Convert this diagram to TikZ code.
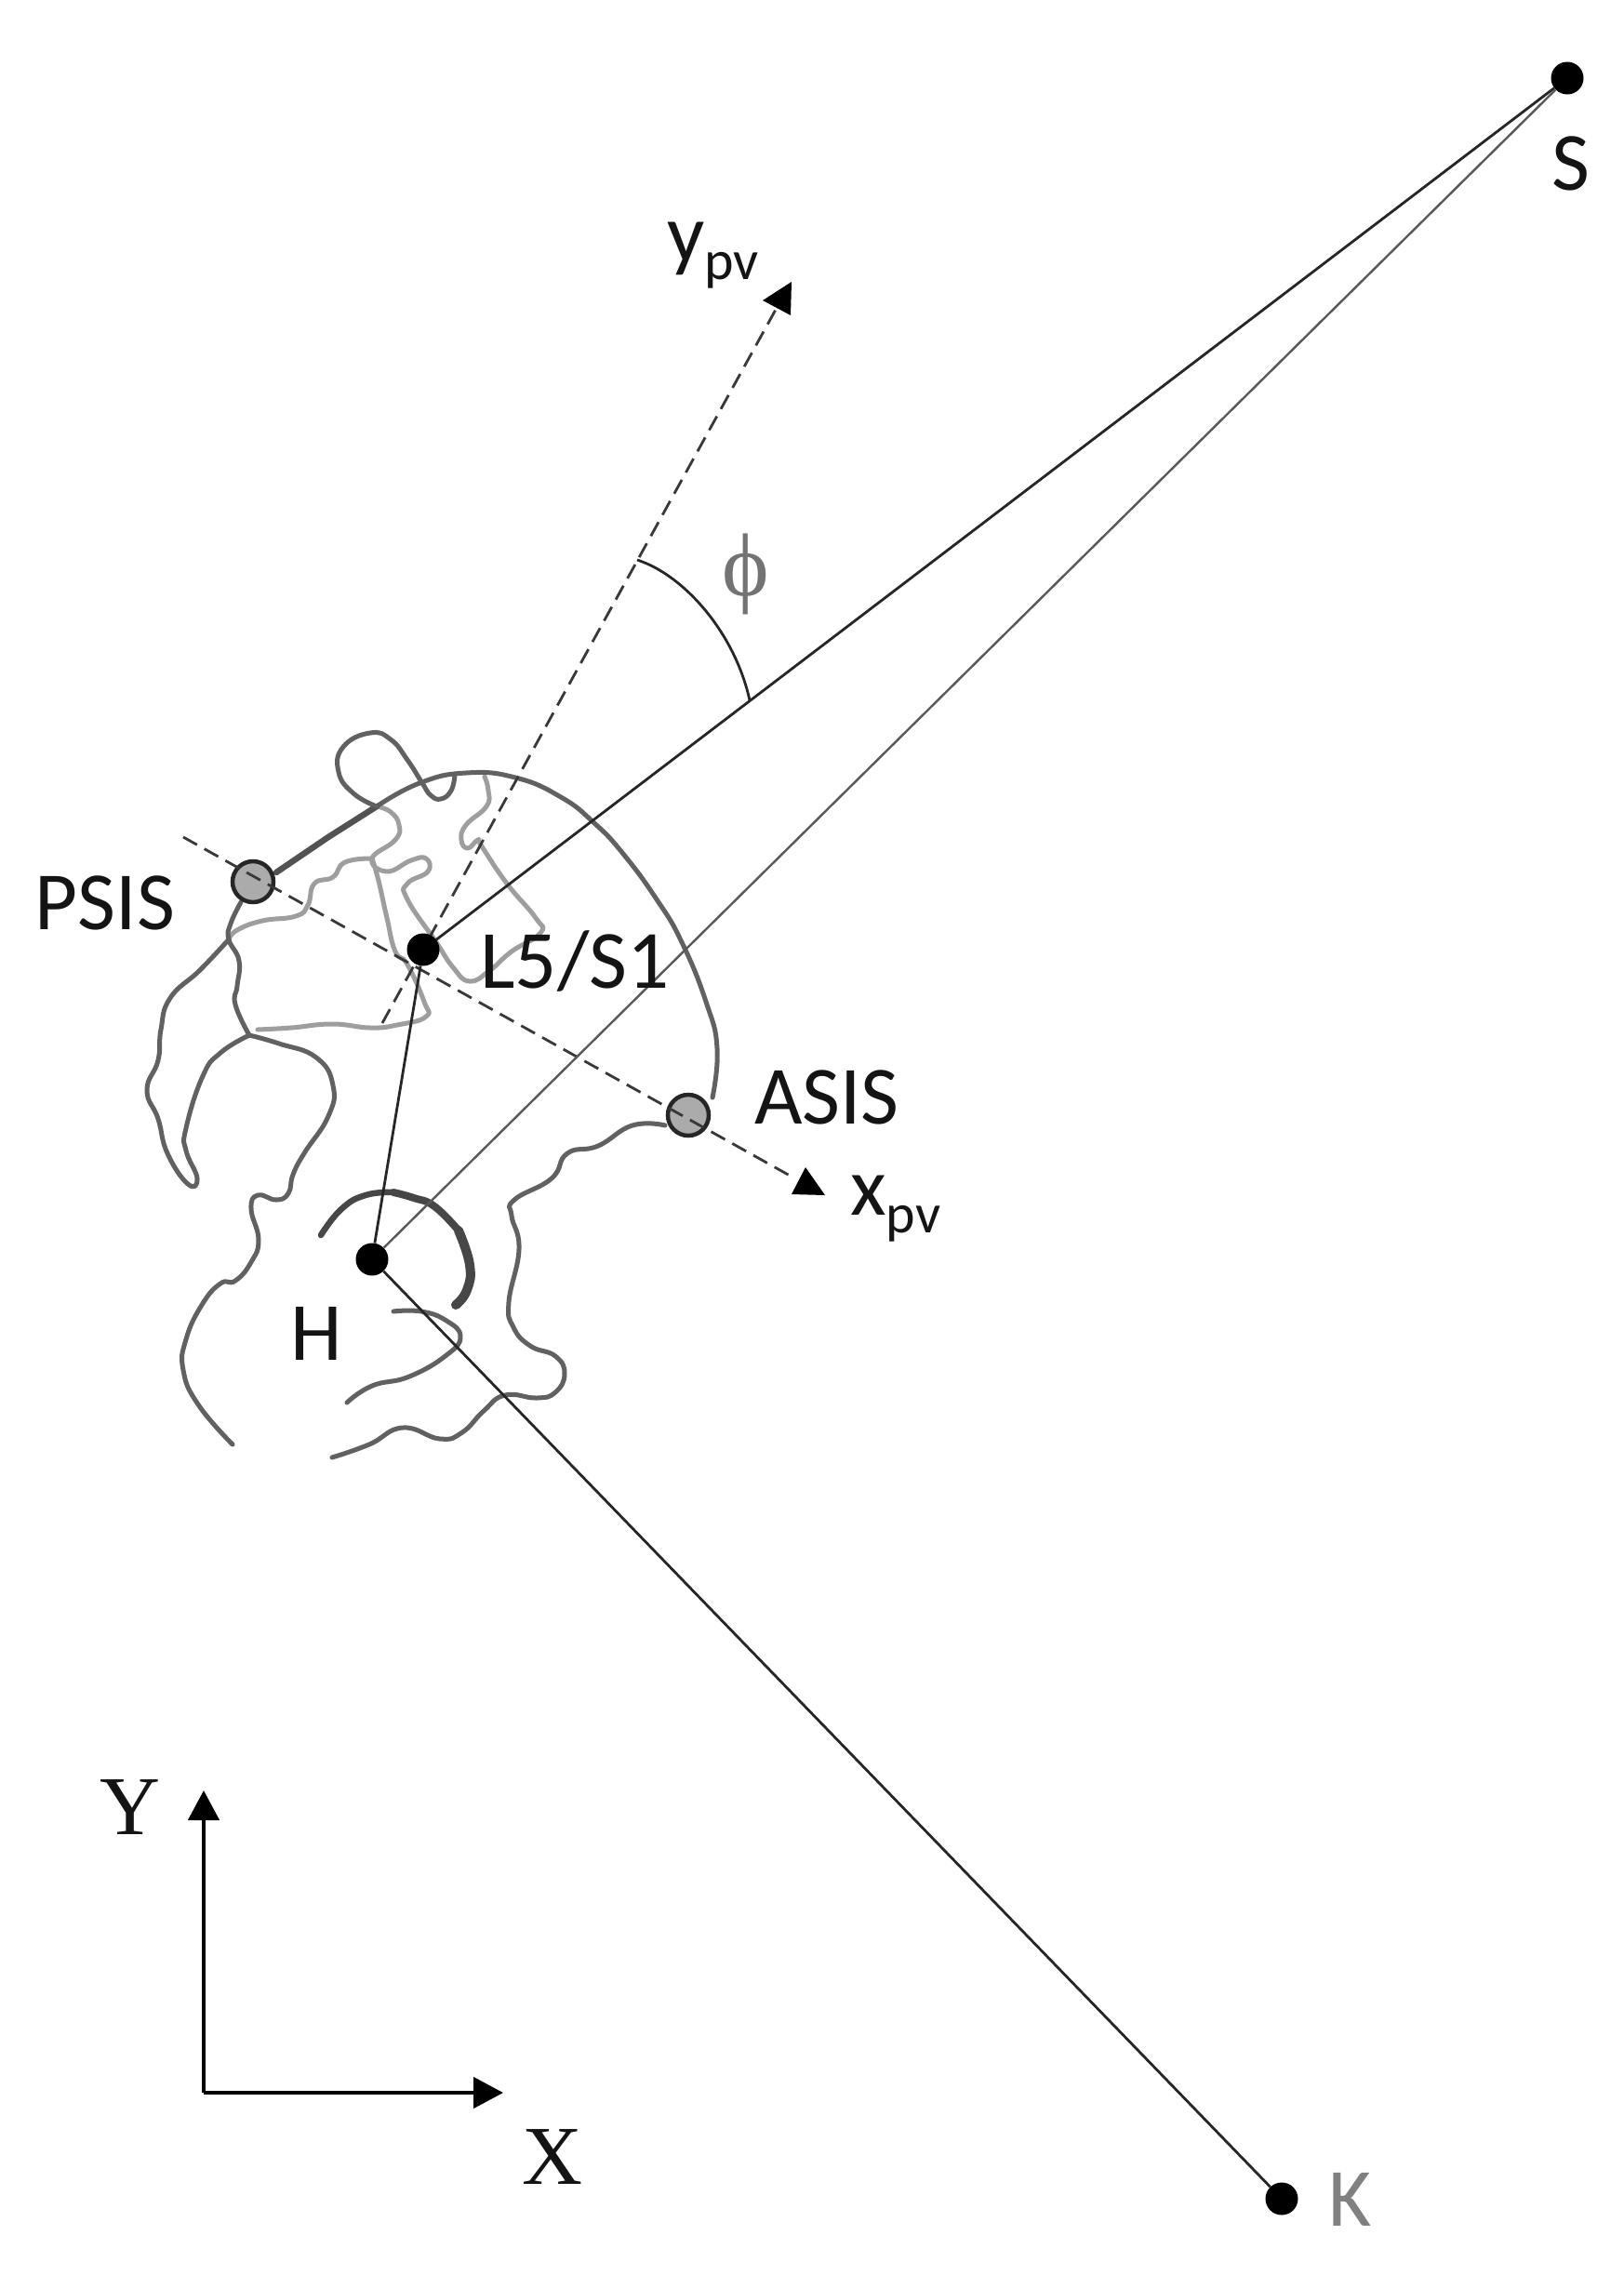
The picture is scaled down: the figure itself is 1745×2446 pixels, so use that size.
\documentclass[tikz,border=0pt]{standalone}
\usepackage{fontspec}
\setmainfont{Carlito}
\newfontfamily\timesf{Liberation Serif}
\usetikzlibrary{arrows.meta}
\newcommand{\lab}{\fontsize{89}{89}\selectfont}
\newcommand{\subl}{\fontsize{60}{60}\selectfont}
\newcommand{\serl}{\timesf\fontsize{90}{90}\selectfont}
\tikzset{
  dot/.style={circle,fill=black,inner sep=0pt,minimum size=35pt},
  mark dot/.style={circle,draw=black!85,line width=4.5pt,fill=black!33,inner sep=0pt,minimum size=44pt},
  txt/.style={anchor=base,inner sep=0pt,text=black!92},
  bone/.style={draw=black!62,line width=5pt,line cap=round,line join=round},
  softbone/.style={draw=black!38,line width=5pt,line cap=round,line join=round},
  cup/.style={draw=black!72,line cap=round,line join=round},
  dashaxis/.style={draw=black!78,line width=2.8pt,dash pattern=on 17pt off 9pt},
  ray/.style={draw=black!85,line width=2.8pt},
  thinray/.style={draw=black!65,line width=2.4pt},
  arrowfill/.style={fill=black},
  axisline/.style={draw=black,line width=4.5pt,-{Triangle[length=32pt,width=33pt]}}
}
\begin{document}
\begin{tikzpicture}[x=1pt,y=-1pt]
\useasboundingbox (0,0) rectangle (1745,2446);
\fill[white] (0,0) rectangle (1745,2446);

% pelvis outline
\draw[softbone] plot[smooth,tension=.8] coordinates {(521,835) (525,850) (523,867) (501,887) (496,903) (503,912) (514,903) (518,910) (545,950) (576,987) (581,1003) (550,1023) (527,1043) (505,1055) (487,1040) (469,1013) (438,967) (438,950) (460,937) (458,923) (442,925) (416,937) (400,923) (425,903) (429,887) (420,873) (405,867)};
\draw[softbone] plot[smooth,tension=.8] coordinates {(400,923) (407,947) (416,987) (425,1023) (438,1037) (456,1077) (458,1093) (427,1102) (398,1105) (357,1101) (313,1105) (277,1107)};
\draw[softbone] plot[smooth,tension=.8] coordinates {(400,923) (371,927) (358,943) (338,950) (331,973) (318,985) (282,990) (255,1000) (246,1010)};
\draw[bone] plot[smooth,tension=.8] coordinates {(405,867) (451,842) (501,831) (554,836) (603,857) (639,885) (670,918) (706,967) (733,1013) (759,1077) (771,1127) (766,1180)};
\draw[bone,line width=6.5pt,draw=black!68] (297,938) -- (353,900) -- (405,867);
\draw[bone] plot[smooth,tension=.8] coordinates {(405,867) (380,853) (364,830) (369,803) (398,788) (420,795) (438,817) (454,842) (463,855) (474,859) (485,850) (489,833)};
\draw[bone] plot[smooth,tension=.8] coordinates {(259,970) (248,993) (246,1010) (257,1033) (255,1060) (253,1080) (268,1113)};
\draw[bone] plot[smooth,tension=.8] coordinates {(246,1010) (215,1043) (183,1073) (173,1107) (170,1140) (158,1172) (170,1203) (180,1240) (202,1273) (212,1267) (200,1237) (200,1213) (218,1157) (237,1132) (268,1113)};
\draw[bone] plot[smooth,tension=.8] coordinates {(268,1113) (300,1122) (340,1137) (358,1167) (353,1200) (327,1240) (315,1263) (310,1283) (297,1290) (277,1285) (270,1300) (278,1333) (270,1357) (253,1377) (237,1380) (217,1403) (200,1440) (197,1473) (213,1510) (250,1553)};
\draw[bone] plot[smooth,tension=.8] coordinates {(423,1410) (453,1410) (480,1420) (495,1437) (480,1457) (440,1480) (400,1490) (373,1508)};
\draw[bone] plot[smooth,tension=.8] coordinates {(715,1210) (680,1210) (643,1232) (610,1240) (593,1267) (553,1290) (550,1307) (558,1343) (547,1400) (552,1427) (570,1447) (597,1458) (607,1477) (597,1497) (577,1503) (543,1500) (520,1517) (497,1540) (473,1547) (433,1535) (397,1553) (357,1567)};
\draw[cup,line width=6.5pt] plot[smooth,tension=.8] coordinates {(345,1328) (367,1300) (393,1285) (423,1282)};
\draw[cup,line width=8pt] plot[smooth,tension=.8] coordinates {(423,1282) (445,1288) (467,1297) (493,1323)};
\draw[cup,line width=10pt] plot[smooth,tension=.8] coordinates {(493,1323) (505,1360) (502,1387) (490,1403)};

% marker points
\node[mark dot] (PSIS) at (272,948) {};
\node[mark dot] (ASIS) at (740,1199) {};

% pelvic axes
\coordinate (xstart) at (197,900);
\coordinate (xend) at (851,1265);
\coordinate (ystart) at (411,1100);
\coordinate (yend) at (835,331);
\draw[dashaxis] (xstart) -- (xend);
\draw[dashaxis] (ystart) -- (yend);
\fill[arrowfill] (866,1255) -- (851,1284) -- (887,1285) -- cycle;
\fill[arrowfill] (851,303) -- (820,323) -- (850,339) -- cycle;

% main points and segments
\node[dot] (S) at (1685,84) {};
\node[dot] (L5) at (455,1021) {};
\node[dot] (H) at (400,1354) {};
\node[dot] (K) at (1378,2364) {};
\draw[ray] (S) -- (L5);
\draw[thinray] (S) -- (H);
\draw[ray] (L5) -- (H);
\draw[ray] (H) -- (K);

% angle arc
\coordinate (arcA) at (685,602);
\coordinate (arcB) at (806,753);
\draw[ray] (arcA) .. controls (735,618) and (790,680) .. (arcB);

% global axes
\coordinate (origin) at (219,2250);
\coordinate (ytip) at (219,1925);
\coordinate (xtip) at (541,2250);
\draw[axisline] (origin) -- (ytip);
\draw[axisline] (origin) -- (xtip);

% labels
\node[txt] (lS) at (1689,204) {\lab S};
\node[txt,text=black!50] (lK) at (1452,2393) {\lab K};
\node[txt] (lH) at (340,1462) {\lab H};
\node[txt] (lL5) at (618,1062) {\lab L5/S1};
\node[txt] (lPSIS) at (113,999) {\lab PSIS};
\node[txt] (lASIS) at (889,1208) {\lab ASIS};
\node[txt,anchor=base west] (lx) at (914,1306) {\lab x{\subl\raisebox{-19pt}{pv}}};
\node[txt,anchor=base west] (ly) at (717,281) {\lab y{\subl\raisebox{-19pt}{pv}}};
\node[txt,text=black!55] (lphi) at (802,640) {\timesf\fontsize{96}{96}\selectfont ϕ};
\node[txt] (lY) at (140,1972) {\serl Y};
\node[txt] (lX) at (594,2348) {\serl X};
\end{tikzpicture}
\end{document}
